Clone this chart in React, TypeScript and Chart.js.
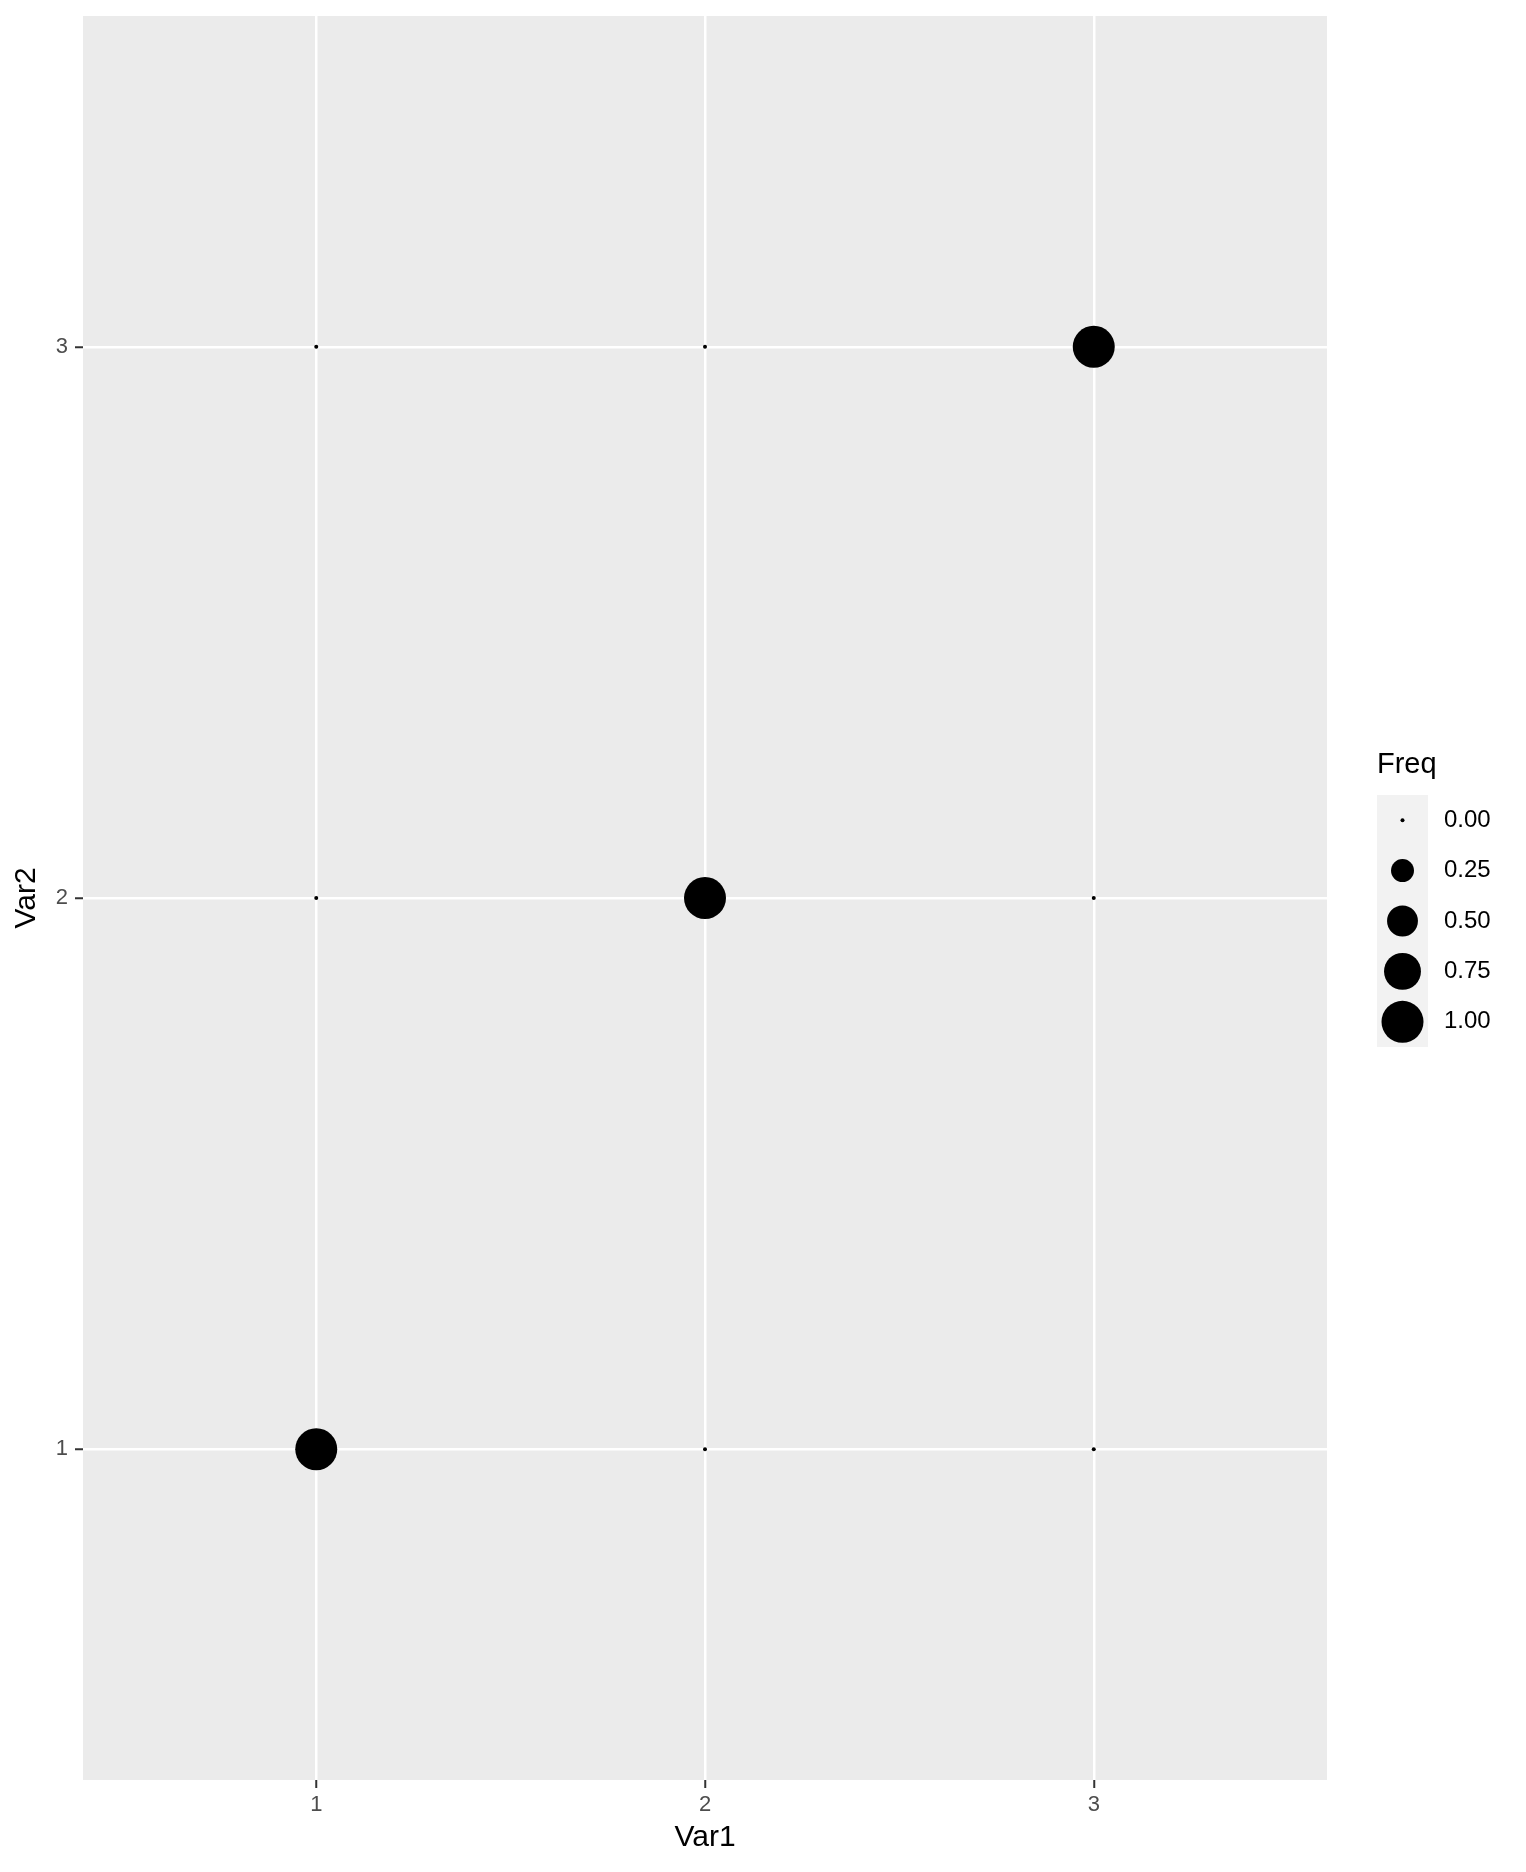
import React, { useEffect, useRef } from "react";
import { Chart, registerables } from "chart.js";

Chart.register(...registerables);

// ---- data ----
const var1Categories = [1, 2, 3];
const var2Categories = [1, 2, 3];
const var1Values = [1, 2, 3, 1, 2, 3, 1, 2, 3];
const var2Values = [1, 1, 1, 2, 2, 2, 3, 3, 3];
const freqValues = [1, 0, 0, 0, 1, 0, 0, 0, 1];
const xTickLabels = ["1", "2", "3"];
const yTickLabels = ["1", "2", "3"];
const legendBreaks = [0, 0.25, 0.5, 0.75, 1.0];
const legendLabels = ["0.00", "0.25", "0.50", "0.75", "1.00"];

const FONT = "'Liberation Sans', Arial, Helvetica, sans-serif";
const W = 1526;
const H = 1872;

const radiusFor = (f: number) => 2 + 19 * Math.sqrt(f);

const panelBg = {
  id: "panelBg",
  beforeDraw(chart: any) {
    const { ctx, chartArea } = chart;
    ctx.save();
    ctx.fillStyle = "#EBEBEB";
    ctx.fillRect(chartArea.left, chartArea.top, chartArea.right - chartArea.left, chartArea.bottom - chartArea.top);
    ctx.restore();
  },
};

const sizeLegend = {
  id: "sizeLegend",
  afterDraw(chart: any) {
    const ctx = chart.ctx as CanvasRenderingContext2D;
    ctx.save();
    ctx.fillStyle = "#000000";
    ctx.font = `29px ${FONT}`;
    ctx.textAlign = "left";
    ctx.textBaseline = "middle";
    ctx.fillText("Freq", 1377, 765);

    const keyX = 1377;
    const keyY = 795;
    const keyW = 51;
    const keyH = 50.4;
    ctx.fillStyle = "#F2F2F2";
    ctx.fillRect(keyX, keyY, keyW, keyH * legendBreaks.length);

    legendBreaks.forEach((b, i) => {
      const cy = keyY + keyH * (i + 0.5);
      const cx = keyX + keyW / 2;
      ctx.beginPath();
      ctx.fillStyle = "#000000";
      ctx.arc(cx, cy, radiusFor(b), 0, Math.PI * 2);
      ctx.fill();
      ctx.font = `24px ${FONT}`;
      ctx.fillText(legendLabels[i], 1444, cy);
    });
    ctx.restore();
  },
};

const zeroPad = (s: any) => {
  s.paddingTop = 0;
  s.paddingBottom = 0;
  s.paddingLeft = 0;
  s.paddingRight = 0;
};

export default function App() {
  const canvasRef = useRef<HTMLCanvasElement | null>(null);

  useEffect(() => {
    if (!canvasRef.current) return;
    const points = var1Values.map((x, i) => ({ x, y: var2Values[i], freq: freqValues[i] }));
    const chart = new Chart(canvasRef.current, {
      type: "scatter",
      data: {
        datasets: [
          {
            data: points as any,
            backgroundColor: "#000000",
            borderWidth: 0,
            pointRadius: (c: any) => radiusFor(c.raw ? c.raw.freq : 0),
            pointHoverRadius: (c: any) => radiusFor(c.raw ? c.raw.freq : 0),
          },
        ],
      },
      options: {
        animation: false,
        responsive: false,
        devicePixelRatio: 1,
        events: [],
        layout: { autoPadding: false, padding: { left: 0, top: 16, right: 199, bottom: 0 } },
        plugins: { legend: { display: false }, tooltip: { enabled: false } },
        scales: {
          x: {
            type: "linear",
            min: 0.4,
            max: 3.6,
            afterBuildTicks: (s: any) => {
              s.ticks = var1Categories.map((v) => ({ value: v }));
            },
            afterFit: (s: any) => {
              s.height = 92;
              zeroPad(s);
            },
            grid: {
              color: "#FFFFFF",
              lineWidth: 2.5,
              tickColor: "#333333",
              tickWidth: 2,
              tickLength: 8,
            },
            border: { display: false },
            ticks: {
              color: "#4D4D4D",
              font: { family: FONT, size: 22 },
              padding: 4,
              maxRotation: 0,
              autoSkip: false,
              callback: (v: any) => {
                const i = var1Categories.indexOf(Number(v));
                return i >= 0 ? xTickLabels[i] : "";
              },
            },
            title: {
              display: true,
              text: "Var1",
              color: "#000000",
              font: { family: FONT, size: 30 },
              padding: { top: 0, bottom: 16 },
            },
          },
          y: {
            type: "linear",
            min: 0.4,
            max: 3.6,
            afterBuildTicks: (s: any) => {
              s.ticks = var2Categories.map((v) => ({ value: v }));
            },
            afterFit: (s: any) => {
              s.width = 83;
              zeroPad(s);
            },
            grid: {
              color: "#FFFFFF",
              lineWidth: 2.5,
              tickColor: "#333333",
              tickWidth: 2,
              tickLength: 8,
            },
            border: { display: false },
            ticks: {
              color: "#4D4D4D",
              font: { family: FONT, size: 22 },
              padding: 7,
              autoSkip: false,
              callback: (v: any) => {
                const i = var2Categories.indexOf(Number(v));
                return i >= 0 ? yTickLabels[i] : "";
              },
            },
            title: {
              display: true,
              text: "Var2",
              color: "#000000",
              font: { family: FONT, size: 30 },
              padding: { top: 9, bottom: 0 },
            },
          },
        },
      },
      plugins: [panelBg, sizeLegend],
    });
    return () => chart.destroy();
  }, []);

  return (
    <div style={{ position: "absolute", left: 0, top: 0, width: W, height: H, background: "#FFFFFF" }}>
      <canvas ref={canvasRef} width={W} height={H} style={{ display: "block", width: W, height: H }} />
    </div>
  );
}
